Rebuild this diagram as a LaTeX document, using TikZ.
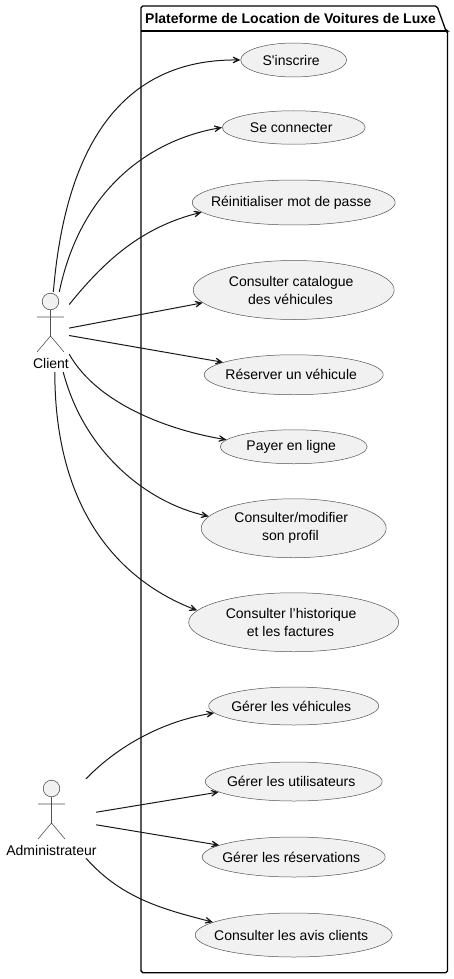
\documentclass[tikz,border=0pt]{standalone}
\usepackage{fontspec}
\setmainfont[Ligatures=TeXOff]{Liberation Sans}
\usepackage{xcolor}
\usetikzlibrary{arrows.meta, positioning, shapes.geometric}
\definecolor{umlfill}{HTML}{F1F1F1}
\definecolor{umlline}{HTML}{181818}
\newcommand{\ucbreak}{\\\hspace*{-1.5pt}}
\tikzset{
    usecase/.style={ellipse, draw=umlline!75, line width=0.5pt, fill=umlfill, inner ysep=0pt, inner xsep=-40pt,
        align=center, text=black, font=\fontsize{14}{18}\selectfont, execute at begin node={\hspace*{-5pt}}},
    actorbox/.style={rectangle, inner sep=0pt},
    actorname/.style={inner sep=0pt, font=\fontsize{14}{16}\selectfont},
    link/.style={draw=umlline, line width=1pt, -{Stealth[length=13pt,width=12pt,inset=9pt]}},
    actorfig/.pic={
        \draw[umlline!75, line width=0.6pt, fill=umlfill] (0,-30.5) circle (8.3pt);
        \draw[umlline!75, line width=0.6pt] (0,-22) -- (0,4) (-13.5,-15) -- (13.5,-15)
            (-13.5,20) -- (0,4) -- (13.5,20);
    }
}

\begin{document}
\begin{tikzpicture}[x=1pt, y=-1pt]
    \useasboundingbox (0,0) rectangle (453,979);
    % package
    \draw[black, line width=1.3pt, rounded corners=1.8pt] (141,31) -- (141,6) -- (437,6) -- (446,31)
        -- (447.5,31) -- (447.5,972.7) -- (141,972.7) -- cycle;
    \draw[black, line width=1.3pt] (141,31) -- (446,31);
    \node (title) [anchor=west, inner sep=0pt, font=\fontsize{14}{16}\selectfont\bfseries] at (145,18.5) {Plateforme de Location de Voitures de Luxe};
    % use cases
    \node (inscrire) [usecase, minimum width=106pt, minimum height=34pt] at (293.7,60) {S'inscrire};
    \node (connecter) [usecase, minimum width=143pt, minimum height=33.5pt, below=33.25pt of inscrire] {Se connecter};
    \node (reinit) [usecase, minimum width=203pt, minimum height=45pt, below=35.25pt of connecter] {Réinitialiser mot de passe};
    \node (catalogue) [usecase, minimum width=201pt, minimum height=59pt, below=35pt of reinit] {Consulter catalogue\ucbreak des véhicules};
    \node (reserver) [usecase, minimum width=179pt, minimum height=40pt, below=34.75pt of catalogue] {Réserver un véhicule};
    \node (payer) [usecase, minimum width=147pt, minimum height=34pt, below=34.5pt of reserver] {Payer en ligne};
    \node (profil) [usecase, minimum width=185pt, minimum height=59pt, below=34.5pt of payer] {Consulter/modifier\ucbreak son profil};
    \node (historique) [usecase, minimum width=210pt, minimum height=59pt, below=34.5pt of profil] {Consulter l’historique\ucbreak et les factures};
    \node (vehicules) [usecase, minimum width=170pt, minimum height=38pt, below=34.75pt of historique] {Gérer les véhicules};
    \node (utilisateurs) [usecase, minimum width=177pt, minimum height=39pt, below=36.5pt of vehicules] {Gérer les utilisateurs};
    \node (reservations) [usecase, minimum width=183pt, minimum height=40pt, below=35.5pt of utilisateurs] {Gérer les réservations};
    \node (avis) [usecase, minimum width=197pt, minimum height=44pt, below=35.5pt of reservations] {Consulter les avis clients};
    % actors
    \node (client) [actorbox, minimum width=44pt, minimum height=80pt] at (47,332) {};
    \pic at (50.5,332) {actorfig};
    \node (clientname) [actorname] at (51,363) {Client};
    \node (admin) [actorbox, minimum width=89pt, minimum height=79pt] at (51.5,818.5) {};
    \pic at (51.5,819) {actorfig};
    \node (adminname) [actorname] at (51.5,850) {Administrateur};
    % links
    \draw[link] (client.81.5) .. controls +(13,-157) and +(-111,-1) .. (inscrire.west);
    \draw[link] (client.73) .. controls +(22,-105) and +(-70,12) .. (connecter.west);
    \draw[link] (client.51) .. controls +(40,-50) and +(-55,14) .. (reinit.186.9);
    \draw[link] (client.10) -- (catalogue.188.5);
    \draw[link] (client.-9) -- (reserver.170.4);
    \draw[link] (client.-45) .. controls +(29,51) and +(-55,-9) .. (payer.174.2);
    \draw[link] (client.-68) .. controls +(22,83) and +(-59,-13) .. (profil.172.3);
    \draw[link] (client.-79) .. controls +(0,138) and +(-78,-30) .. (historique.173);
    \draw[link] (admin.49.7) .. controls +(33,-34) and +(-50,8) .. (vehicules.185.3);
    \draw[link] (admin.8.3) -- (utilisateurs.188.3);
    \draw[link] (admin.-8.3) -- (reservations.171.7);
    \draw[link] (admin.-49.7) .. controls +(37,42) and +(-45,-12) .. (avis.171.8);
\end{tikzpicture}
\end{document}
